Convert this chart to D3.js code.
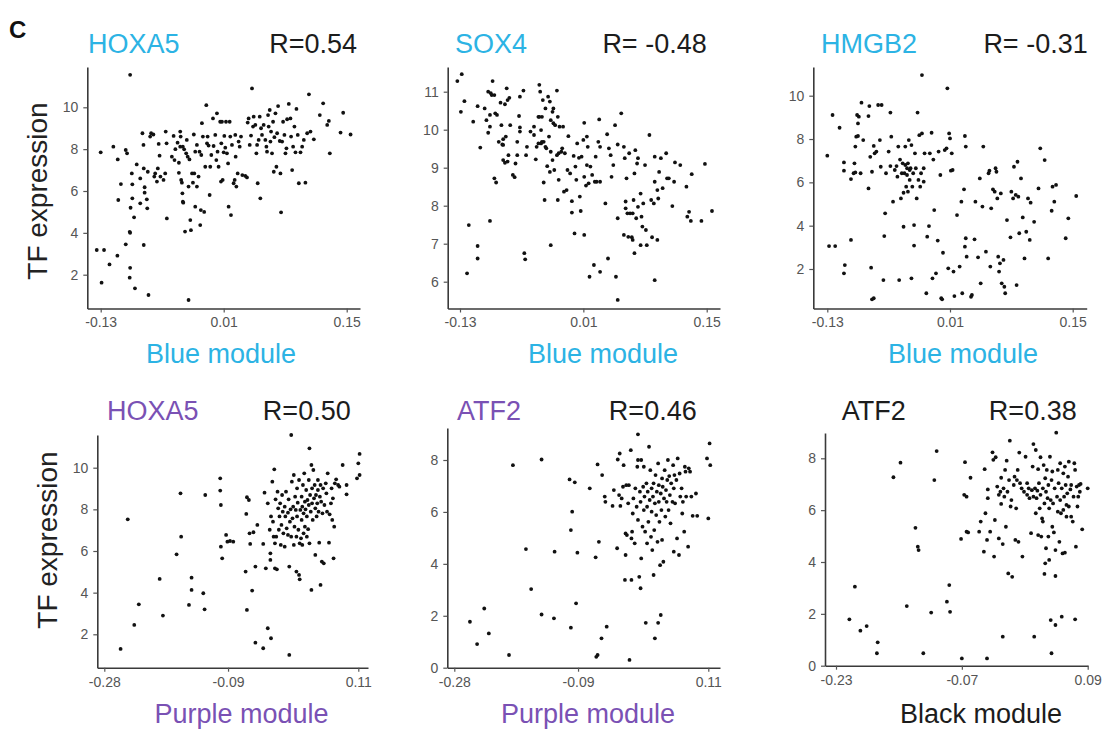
<!DOCTYPE html>
<html><head><meta charset="utf-8">
<script src="https://cdn.jsdelivr.net/npm/d3@7"></script>
<style>
body{margin:0;background:#fff}
svg{display:block}
text{font-family:"Liberation Sans",Arial,Helvetica,sans-serif}
</style>
</head><body>
<svg id="c" width="1105" height="731"></svg>
<script>
// ---------------- DATA ----------------
const blueTicks = [-0.13, 0.01, 0.15];
const purpleTicks = [-0.28, -0.09, 0.11];
const blackTicks = [-0.23, -0.07, 0.09];
const yTicksA = [2, 4, 6, 8, 10];
const yTicksSox = [6, 7, 8, 9, 10, 11];
const yTicksB = [0, 2, 4, 6, 8];

const genes = ["HOXA5", "SOX4", "HMGB2", "HOXA5", "ATF2", "ATF2"];
const rLabels = ["R=0.54", "R= -0.48", "R= -0.31", "R=0.50", "R=0.46", "R=0.38"];
const modules = ["Blue module", "Blue module", "Blue module", "Purple module", "Purple module", "Black module"];

const hoxa5Blue = [[-0.1345,3.18],[-0.1262,3.18],[-0.130,7.85],[-0.129,1.62],[-0.120,2.49],[-0.1156,8.12],[-0.111,2.91],[-0.1106,7.51],[-0.110,5.57],[-0.107,6.33],[-0.1015,3.45],[-0.1015,7.96],[-0.100,7.8],[-0.0965,11.55],[-0.097,4.05],[-0.0965,4.0],[-0.0965,2.33],[-0.097,1.86],[-0.0946,6.84],[-0.094,6.32],[-0.094,5.65],[-0.096,5.2],[-0.092,4.74],[-0.091,1.35],[-0.089,7.27],[-0.085,6.6],[-0.085,5.41],[-0.0825,8.76],[-0.0813,8.2],[-0.081,7.08],[-0.080,5.92],[-0.080,6.18],[-0.081,3.42],[-0.0775,5.6],[-0.077,5.17],[-0.0756,1.03],[-0.0764,6.92],[-0.0737,8.6],[-0.0726,8.76],[-0.070,8.7],[-0.069,6.69],[-0.068,6.84],[-0.066,6.45],[-0.065,7.08],[-0.064,8.25],[-0.063,7.69],[-0.062,6.69],[-0.0585,6.53],[-0.0566,6.84],[-0.056,8.84],[-0.0547,4.69],[-0.055,8.28],[-0.049,7.64],[-0.047,8.63],[-0.046,7.48],[-0.045,8.0],[-0.0425,8.31],[-0.041,7.35],[-0.041,6.87],[-0.0395,8.12],[-0.0395,8.84],[-0.039,8.6],[-0.0384,6.53],[-0.0376,6.4],[-0.037,5.89],[-0.0365,5.49],[-0.036,5.44],[-0.0365,8.12],[-0.035,7.99],[-0.034,4.06],[-0.0327,7.8],[-0.032,8.44],[-0.031,7.64],[-0.030,6.21],[-0.030,0.79],[-0.028,4.61],[-0.029,7.51],[-0.026,6.84],[-0.0273,4.13],[-0.025,6.4],[-0.024,8.7],[-0.0235,6.84],[-0.0224,7.88],[-0.0224,5.25],[-0.0205,8.2],[-0.0205,6.21],[-0.0186,6.69],[-0.0175,7.88],[-0.0167,4.37],[-0.016,5.09],[-0.0155,7.72],[-0.0148,9.24],[-0.0137,8.6],[-0.0122,5.0],[-0.011,7.16],[-0.0098,10.1],[-0.009,8.28],[-0.0083,8.6],[-0.0072,8.17],[-0.006,5.81],[-0.0053,7.16],[-0.0041,7.72],[-0.0022,9.47],[-0.0015,8.15],[0.0004,8.68],[0.0016,7.48],[0.0023,9.71],[0.003,7.88],[0.0042,7.16],[0.006,9.31],[0.0069,6.45],[0.0073,8.28],[0.008,9.31],[0.0088,6.53],[0.01,7.85],[0.0107,8.63],[0.0118,8.07],[0.0126,9.31],[0.0137,7.8],[0.015,7.32],[0.0156,5.25],[0.0168,9.31],[0.0175,8.6],[0.0183,4.85],[0.0194,8.2],[0.0213,6.37],[0.0225,6.53],[0.0232,8.68],[0.0236,7.64],[0.0244,6.21],[0.0259,6.84],[0.027,8.36],[0.0282,8.12],[0.0297,8.6],[0.0312,6.76],[0.0346,6.72],[0.0365,6.65],[0.0373,9.27],[0.0384,9.47],[0.0396,8.2],[0.0411,8.65],[0.0422,10.9],[0.0434,9.08],[0.0441,9.55],[0.046,9.16],[0.0472,7.8],[0.048,8.2],[0.0487,6.37],[0.0498,8.44],[0.051,9.55],[0.0517,5.65],[0.0525,9.0],[0.0536,8.68],[0.0555,9.16],[0.0574,8.44],[0.0586,8.12],[0.0593,7.88],[0.0605,9.63],[0.0612,9.08],[0.0624,9.87],[0.0632,8.36],[0.0639,8.84],[0.065,7.8],[0.0662,9.31],[0.067,6.92],[0.0677,8.57],[0.0689,9.71],[0.07,7.16],[0.0708,8.76],[0.0719,10.06],[0.0738,8.39],[0.0746,6.84],[0.0753,4.98],[0.0765,8.36],[0.0776,9.31],[0.0791,8.68],[0.0803,7.8],[0.0814,8.04],[0.0822,9.43],[0.0841,10.16],[0.086,9.47],[0.0867,8.6],[0.0879,7.0],[0.089,8.12],[0.0905,9.08],[0.0917,7.85],[0.0928,9.92],[0.0943,8.68],[0.0955,6.37],[0.0974,7.85],[0.0993,8.12],[0.1012,8.44],[0.103,6.4],[0.105,8.76],[0.107,10.62],[0.1088,8.84],[0.1126,8.47],[0.1194,9.63],[0.1232,10.19],[0.1278,9.16],[0.1297,9.35],[0.1308,7.8],[0.143,8.79],[0.146,9.74],[0.1544,8.7]];

const sox4Blue = [[-0.133,11.28],[-0.128,11.46],[-0.129,10.47],[-0.125,10.75],[-0.122,6.22],[-0.120,7.49],[-0.115,10.21],[-0.110,10.62],[-0.110,6.94],[-0.110,6.61],[-0.107,9.53],[-0.102,10.56],[-0.100,10.25],[-0.098,9.92],[-0.098,11.0],[-0.096,10.08],[-0.096,10.39],[-0.096,7.6],[-0.095,10.96],[-0.094,10.91],[-0.093,11.28],[-0.091,10.91],[-0.090,10.43],[-0.091,8.72],[-0.089,8.61],[-0.088,10.39],[-0.086,9.68],[-0.084,10.71],[-0.083,10.12],[-0.082,9.61],[-0.081,9.75],[-0.081,9.6],[-0.081,9.2],[-0.079,10.67],[-0.079,9.13],[-0.078,9.82],[-0.077,11.09],[-0.076,10.78],[-0.076,9.16],[-0.075,9.33],[-0.074,10.84],[-0.073,10.12],[-0.070,8.81],[-0.068,8.75],[-0.067,9.11],[-0.065,9.33],[-0.065,9.68],[-0.063,10.36],[-0.062,10.06],[-0.062,10.87],[-0.062,9.95],[-0.058,11.03],[-0.057,6.75],[-0.056,6.59],[-0.055,9.33],[-0.054,9.55],[-0.050,9.95],[-0.046,10.08],[-0.046,9.86],[-0.044,9.22],[-0.043,9.55],[-0.041,10.34],[-0.041,9.64],[-0.040,11.18],[-0.040,10.34],[-0.039,11.0],[-0.038,9.64],[-0.038,9.99],[-0.037,9.68],[-0.037,10.34],[-0.036,10.78],[-0.035,8.61],[-0.035,9.68],[-0.034,8.15],[-0.033,9.55],[-0.033,10.56],[-0.032,9.51],[-0.031,9.04],[-0.030,10.87],[-0.029,9.82],[-0.028,10.74],[-0.028,8.89],[-0.027,6.96],[-0.027,10.25],[-0.027,9.42],[-0.025,10.47],[-0.025,9.2],[-0.024,10.56],[-0.024,10.17],[-0.023,8.94],[-0.022,10.12],[-0.020,11.03],[-0.020,9.33],[-0.019,10.34],[-0.019,8.15],[-0.018,8.68],[-0.018,9.38],[-0.017,10.08],[-0.015,9.42],[-0.014,9.51],[-0.013,10.08],[-0.012,8.37],[-0.011,9.38],[-0.009,8.41],[-0.008,8.94],[-0.007,9.83],[-0.005,8.85],[-0.003,8.12],[-0.003,7.82],[-0.001,9.31],[0.0,7.27],[0.001,9.03],[0.002,8.68],[0.003,9.64],[0.005,9.26],[0.006,8.24],[0.007,7.86],[0.008,9.29],[0.010,9.73],[0.011,10.18],[0.011,8.76],[0.011,7.23],[0.013,8.53],[0.014,9.82],[0.014,9.07],[0.015,9.55],[0.016,8.59],[0.017,6.13],[0.018,9.03],[0.020,8.81],[0.022,6.44],[0.023,8.63],[0.024,9.29],[0.025,8.63],[0.027,9.68],[0.028,10.27],[0.029,9.55],[0.029,6.26],[0.029,8.63],[0.035,8.06],[0.037,9.88],[0.038,6.61],[0.039,9.51],[0.041,9.33],[0.042,8.76],[0.044,9.07],[0.046,10.12],[0.047,6.13],[0.049,9.61],[0.049,7.67],[0.049,5.52],[0.053,10.43],[0.056,7.23],[0.056,9.55],[0.057,9.25],[0.058,8.11],[0.058,7.93],[0.059,8.72],[0.060,7.8],[0.061,7.18],[0.062,9.38],[0.063,7.8],[0.065,7.17],[0.066,7.8],[0.066,7.1],[0.067,8.15],[0.068,8.85],[0.068,6.75],[0.069,9.46],[0.070,7.67],[0.071,9.11],[0.072,7.97],[0.072,9.25],[0.075,6.96],[0.075,8.32],[0.076,7.71],[0.077,7.45],[0.078,8.06],[0.080,9.07],[0.081,7.36],[0.082,6.96],[0.085,9.86],[0.087,8.15],[0.088,7.17],[0.090,8.06],[0.091,9.29],[0.091,6.04],[0.091,8.63],[0.094,8.41],[0.094,7.1],[0.095,8.19],[0.096,8.89],[0.098,9.25],[0.100,8.46],[0.104,9.38],[0.105,8.72],[0.107,8.72],[0.111,7.99],[0.113,8.63],[0.114,9.14],[0.120,9.07],[0.127,8.5],[0.128,7.71],[0.130,7.84],[0.132,7.6],[0.133,8.83],[0.144,7.6],[0.148,9.1],[0.156,7.86]];

const hmgb2Blue = [[-0.130,7.23],[-0.128,3.06],[-0.124,9.11],[-0.121,3.06],[-0.116,8.52],[-0.111,6.92],[-0.111,6.54],[-0.110,2.18],[-0.111,1.8],[-0.103,3.34],[-0.103,6.15],[-0.100,6.42],[-0.099,6.88],[-0.098,6.46],[-0.098,7.65],[-0.097,8.11],[-0.096,9.11],[-0.095,8.14],[-0.095,8.72],[-0.094,9.03],[-0.092,6.42],[-0.091,9.68],[-0.089,7.95],[-0.083,9.06],[-0.083,5.72],[-0.082,9.52],[-0.081,7.18],[-0.080,2.06],[-0.079,0.6],[-0.077,0.65],[-0.079,6.49],[-0.077,7.68],[-0.076,7.34],[-0.074,7.42],[-0.072,9.57],[-0.068,9.57],[-0.070,7.95],[-0.069,6.72],[-0.066,1.49],[-0.065,3.52],[-0.064,4.57],[-0.063,6.42],[-0.060,7.42],[-0.058,9.22],[-0.058,6.75],[-0.057,8.11],[-0.055,5.11],[-0.053,6.57],[-0.051,6.75],[-0.050,6.26],[-0.049,7.65],[-0.048,1.49],[-0.047,7.05],[-0.046,5.26],[-0.045,6.42],[-0.044,6.88],[-0.043,5.52],[-0.043,3.95],[-0.042,6.42],[-0.041,7.65],[-0.041,6.8],[-0.040,5.8],[-0.039,6.34],[-0.039,6.65],[-0.038,6.88],[-0.038,5.57],[-0.037,7.95],[-0.036,6.11],[-0.036,6.57],[-0.035,6.65],[-0.034,7.72],[-0.034,1.57],[-0.033,5.8],[-0.032,6.42],[-0.031,4.03],[-0.031,3.08],[-0.030,7.34],[-0.029,6.65],[-0.028,5.26],[-0.027,9.22],[-0.026,6.11],[-0.025,8.18],[-0.024,5.8],[-0.023,6.42],[-0.022,10.95],[-0.022,8.26],[-0.020,6.65],[-0.020,6.03],[-0.019,7.34],[-0.017,0.88],[-0.016,3.49],[-0.014,3.98],[-0.013,7.34],[-0.011,8.29],[-0.010,1.57],[-0.009,7.05],[-0.008,4.72],[-0.006,1.8],[-0.004,3.31],[-0.003,7.42],[-0.001,6.34],[0.0,0.65],[0.001,0.6],[0.002,2.75],[0.004,7.49],[0.006,7.57],[0.007,10.34],[0.008,2.03],[0.009,8.26],[0.010,8.03],[0.011,6.54],[0.012,7.34],[0.013,6.57],[0.014,1.88],[0.015,0.75],[0.018,4.49],[0.021,2.11],[0.023,5.11],[0.024,0.88],[0.026,5.68],[0.027,3.03],[0.027,8.14],[0.028,7.65],[0.028,3.42],[0.029,2.57],[0.034,0.72],[0.035,0.8],[0.038,3.37],[0.039,5.11],[0.042,2.54],[0.044,6.18],[0.045,1.34],[0.047,4.88],[0.048,7.65],[0.051,2.8],[0.054,6.42],[0.055,6.54],[0.056,2.11],[0.057,4.8],[0.059,5.68],[0.061,5.57],[0.062,6.65],[0.063,6.49],[0.064,5.26],[0.065,2.57],[0.066,1.88],[0.067,2.26],[0.068,5.49],[0.069,1.34],[0.071,2.42],[0.072,1.18],[0.073,0.88],[0.075,4.26],[0.079,3.46],[0.080,5.57],[0.082,5.26],[0.083,6.72],[0.085,5.42],[0.086,1.26],[0.087,6.95],[0.088,5.34],[0.089,3.65],[0.091,6.18],[0.093,4.38],[0.095,2.49],[0.097,3.72],[0.099,5.26],[0.101,3.34],[0.102,5.06],[0.106,4.18],[0.111,5.72],[0.113,7.57],[0.118,7.03],[0.122,2.49],[0.126,4.69],[0.127,5.8],[0.129,5.11],[0.131,5.88],[0.142,3.42],[0.145,4.34],[0.154,5.37]];

const hoxa5Purple = [[-0.255,1.3],[-0.244,7.52],[-0.234,2.45],[-0.227,3.44],[-0.195,4.66],[-0.190,2.9],[-0.169,5.84],[-0.163,8.77],[-0.162,6.69],[-0.150,3.41],[-0.146,4.72],[-0.146,4.13],[-0.128,3.97],[-0.126,3.2],[-0.125,8.69],[-0.102,9.49],[-0.102,8.9],[-0.101,8.21],[-0.101,6.21],[-0.099,5.65],[-0.093,6.77],[-0.091,6.45],[-0.087,6.48],[-0.082,6.45],[-0.063,5.01],[-0.062,7.78],[-0.061,3.17],[-0.061,8.58],[-0.058,8.45],[-0.057,6.85],[-0.056,6.34],[-0.053,4.1],[-0.051,6.9],[-0.048,5.25],[-0.048,1.6],[-0.045,7.25],[-0.036,6.34],[-0.036,1.33],[-0.034,8.8],[-0.032,5.17],[-0.029,8.29],[-0.029,2.29],[-0.026,7.02],[-0.025,5.57],[-0.025,5.89],[-0.024,7.66],[-0.024,1.81],[-0.022,9.33],[-0.021,7.41],[-0.020,6.69],[-0.019,9.92],[-0.018,5.17],[-0.018,6.37],[-0.017,8.48],[-0.016,6.69],[-0.015,5.12],[-0.014,8.85],[-0.013,8.05],[-0.012,7.02],[-0.011,7.66],[-0.010,8.29],[-0.009,6.29],[-0.008,7.25],[-0.007,8.69],[-0.006,7.89],[-0.005,6.85],[-0.003,8.13],[-0.003,6.21],[-0.002,7.66],[-0.001,8.85],[0.0,7.09],[0.002,7.84],[0.002,6.77],[0.003,8.48],[0.004,5.25],[0.004,1.01],[0.005,7.41],[0.006,8.0],[0.007,11.57],[0.007,6.69],[0.008,9.33],[0.009,7.57],[0.010,8.13],[0.011,9.65],[0.011,6.29],[0.012,7.17],[0.013,8.61],[0.014,7.97],[0.015,6.69],[0.015,5.01],[0.016,9.01],[0.016,7.66],[0.017,8.32],[0.018,7.02],[0.019,9.41],[0.019,4.85],[0.020,6.37],[0.020,4.64],[0.021,7.97],[0.022,6.61],[0.023,8.61],[0.023,7.49],[0.024,6.29],[0.024,8.13],[0.025,9.17],[0.026,6.85],[0.026,7.81],[0.027,9.73],[0.028,8.37],[0.028,7.17],[0.029,8.0],[0.030,8.93],[0.031,6.69],[0.031,7.66],[0.032,8.45],[0.033,7.05],[0.034,9.41],[0.034,8.21],[0.035,10.93],[0.035,6.37],[0.036,8.69],[0.037,7.89],[0.038,4.13],[0.038,10.13],[0.039,9.01],[0.039,8.29],[0.040,7.49],[0.041,9.89],[0.042,8.53],[0.043,9.17],[0.044,5.81],[0.044,8.05],[0.045,8.69],[0.046,7.66],[0.047,8.29],[0.048,9.41],[0.048,8.93],[0.049,7.89],[0.050,6.4],[0.051,8.61],[0.052,9.17],[0.052,4.37],[0.053,8.37],[0.054,5.49],[0.055,7.81],[0.056,9.01],[0.057,5.41],[0.058,8.21],[0.060,9.25],[0.061,8.77],[0.062,7.89],[0.063,9.73],[0.065,6.4],[0.066,7.76],[0.068,8.29],[0.069,9.01],[0.070,7.49],[0.071,8.53],[0.072,5.65],[0.073,7.17],[0.074,9.25],[0.076,9.44],[0.079,9.17],[0.081,9.09],[0.086,10.13],[0.092,8.72],[0.092,9.17],[0.108,9.49],[0.110,10.21],[0.112,9.65],[0.112,10.66]];

const atf2Purple = [[-0.256,1.77],[-0.245,0.91],[-0.234,2.28],[-0.227,1.32],[-0.196,0.49],[-0.190,7.8],[-0.170,4.57],[-0.162,3.03],[-0.146,8.02],[-0.146,2.05],[-0.127,1.9],[-0.126,4.47],[-0.103,7.25],[-0.101,1.54],[-0.101,5.3],[-0.099,6.01],[-0.095,7.14],[-0.093,2.48],[-0.091,4.43],[-0.072,6.91],[-0.063,4.25],[-0.062,0.42],[-0.060,0.49],[-0.060,7.83],[-0.058,4.85],[-0.054,1.13],[-0.053,7.42],[-0.049,6.59],[-0.048,6.39],[-0.046,1.58],[-0.037,6.23],[-0.035,6.84],[-0.030,4.6],[-0.029,8.02],[-0.027,6.65],[-0.026,8.25],[-0.025,6.23],[-0.023,6.52],[-0.021,6.97],[-0.020,7.8],[-0.018,3.38],[-0.017,5.17],[-0.017,4.34],[-0.016,7.03],[-0.015,5.11],[-0.013,6.33],[-0.012,7.03],[-0.011,0.3],[-0.009,8.38],[-0.008,4.98],[-0.008,3.38],[-0.007,5.24],[-0.006,5.94],[-0.005,6.52],[-0.003,4.79],[-0.002,6.91],[0.0,6.2],[0.001,7.74],[0.002,8.0],[0.002,8.99],[0.002,5.69],[0.004,3.5],[0.005,6.78],[0.006,3.06],[0.006,6.39],[0.007,4.21],[0.007,8.0],[0.009,5.43],[0.010,6.97],[0.011,6.07],[0.011,7.74],[0.012,6.59],[0.013,5.24],[0.014,1.73],[0.015,7.1],[0.016,4.79],[0.016,6.2],[0.017,6.78],[0.018,5.62],[0.019,8.51],[0.020,6.46],[0.021,7.61],[0.022,5.04],[0.023,6.91],[0.023,6.01],[0.024,4.53],[0.025,6.59],[0.026,3.57],[0.026,7.1],[0.027,5.3],[0.028,1.13],[0.028,6.33],[0.029,7.42],[0.030,5.88],[0.031,6.78],[0.032,4.85],[0.033,7.87],[0.033,1.73],[0.034,6.39],[0.034,7.03],[0.035,5.62],[0.036,3.95],[0.037,6.71],[0.037,2.03],[0.038,6.07],[0.039,7.29],[0.039,4.92],[0.040,6.97],[0.041,4.08],[0.042,6.52],[0.043,7.61],[0.044,5.82],[0.045,6.84],[0.046,6.39],[0.047,7.23],[0.048,8.0],[0.049,6.07],[0.050,7.38],[0.051,6.65],[0.052,5.56],[0.053,7.1],[0.055,6.39],[0.056,7.8],[0.057,4.47],[0.057,6.91],[0.058,7.42],[0.059,6.33],[0.061,7.23],[0.062,4.98],[0.063,8.06],[0.065,4.34],[0.066,7.48],[0.067,6.59],[0.069,6.91],[0.070,5.94],[0.071,6.39],[0.073,5.24],[0.074,7.74],[0.075,7.55],[0.076,6.59],[0.079,4.66],[0.080,7.68],[0.082,7.55],[0.084,6.59],[0.086,5.85],[0.091,6.71],[0.093,5.85],[0.108,8.06],[0.110,5.75],[0.112,8.64],[0.113,7.8]];

const atf2Black = [[-0.213,1.79],[-0.206,3.05],[-0.199,1.35],[-0.191,1.53],[-0.177,0.9],[-0.178,0.48],[-0.157,7.27],[-0.148,7.83],[-0.140,2.3],[-0.129,5.32],[-0.126,4.59],[-0.125,4.46],[-0.119,0.48],[-0.109,2.05],[-0.105,7.16],[-0.102,8.28],[-0.089,2.47],[-0.086,3.11],[-0.085,2.08],[-0.071,4.89],[-0.070,0.28],[-0.067,6.59],[-0.066,7.85],[-0.064,6.52],[-0.064,5.17],[-0.062,5.14],[-0.059,7.25],[-0.048,5.17],[-0.046,5.56],[-0.042,4.4],[-0.041,7.58],[-0.040,5.88],[-0.038,4.85],[-0.038,0.28],[-0.037,6.46],[-0.037,6.8],[-0.034,5.17],[-0.031,8.23],[-0.030,7.94],[-0.029,4.21],[-0.028,5.62],[-0.027,8.04],[-0.025,6.91],[-0.023,4.91],[-0.023,6.59],[-0.021,6.71],[-0.020,7.25],[-0.020,6.24],[-0.018,1.12],[-0.018,4.69],[-0.017,6.84],[-0.016,6.52],[-0.015,7.55],[-0.014,5.36],[-0.013,7.91],[-0.012,6.71],[-0.011,3.56],[-0.010,7.16],[-0.009,8.68],[-0.008,6.14],[-0.007,6.39],[-0.006,3.43],[-0.004,6.97],[-0.003,7.29],[-0.002,4.85],[-0.001,6.07],[0.0,7.16],[0.001,7.55],[0.002,4.78],[0.003,8.22],[0.004,7.04],[0.006,6.84],[0.007,4.21],[0.009,6.71],[0.011,8.06],[0.013,6.59],[0.013,7.04],[0.015,6.84],[0.016,6.46],[0.018,5.11],[0.019,6.77],[0.020,7.68],[0.021,6.52],[0.021,8.55],[0.022,1.12],[0.023,6.84],[0.024,8.32],[0.024,5.88],[0.025,6.46],[0.026,6.75],[0.027,7.58],[0.027,5.04],[0.028,7.04],[0.029,6.07],[0.030,8.04],[0.030,6.59],[0.031,4.98],[0.032,5.68],[0.033,6.84],[0.033,5.56],[0.034,7.74],[0.035,3.54],[0.035,6.26],[0.036,3.95],[0.036,7.23],[0.037,6.71],[0.037,4.53],[0.038,7.55],[0.039,6.46],[0.040,4.98],[0.040,6.97],[0.041,4.08],[0.041,6.07],[0.042,8.06],[0.043,1.76],[0.043,6.39],[0.044,7.16],[0.044,0.48],[0.045,5.36],[0.045,7.49],[0.046,6.26],[0.047,5.14],[0.048,6.84],[0.049,3.46],[0.049,1.57],[0.049,4.46],[0.050,8.99],[0.051,6.52],[0.052,7.55],[0.052,5.94],[0.053,7.04],[0.054,4.78],[0.055,7.81],[0.055,6.39],[0.056,5.88],[0.057,1.89],[0.057,6.84],[0.058,4.33],[0.059,7.42],[0.059,6.01],[0.060,6.52],[0.061,4.36],[0.061,7.68],[0.062,6.97],[0.063,6.2],[0.063,5.75],[0.064,6.65],[0.065,7.29],[0.066,7.87],[0.066,6.14],[0.068,6.8],[0.069,5.75],[0.069,6.97],[0.071,5.56],[0.072,6.52],[0.073,7.81],[0.074,1.79],[0.074,7.55],[0.075,4.59],[0.076,6.91],[0.077,6.14],[0.078,6.52],[0.079,6.97],[0.080,6.71],[0.081,7.01],[0.083,5.26],[0.090,6.84]];

// ---------------- LAYOUT ----------------
const BLUE = "#2cb3e4", PURPLE = "#7a51b4", BLACK = "#1c1c1c";
const panelData = [hoxa5Blue, sox4Blue, hmgb2Blue, hoxa5Purple, atf2Purple, atf2Black];
const xTickSets = [blueTicks, blueTicks, blueTicks, purpleTicks, purpleTicks, blackTicks];
const yTickSets = [yTicksA, yTicksSox, yTicksA, yTicksA, yTicksB, yTicksB];
const colors = [BLUE, BLUE, BLUE, PURPLE, PURPLE, BLACK];

// pixel geometry per panel: y-axis x, axis right end, axis top, x-axis y,
// pixel positions of first/last x tick, of first/last y tick, text anchors
const geo = [
  {ax:87.3, right:360, top:67, bot:308.5, xp:[100.7,346.7], yp:[274.7,107.3], gx:88, rx:357, ty:53, mx:221, my:363, ylx:47, yly:191},
  {ax:447.7, right:720, top:67, bot:308.5, xp:[460,706.7], yp:[281.7,91.7], gx:455, rx:706.7, ty:53, mx:603, my:363},
  {ax:813.3, right:1086.7, top:67, bot:308.5, xp:[827.3,1072.7], yp:[269,95.7], gx:821, rx:1087.7, ty:53, mx:963, my:363},
  {ax:97.3, right:368, top:435, bot:667.7, xp:[104.3,358.3], yp:[634.3,467.7], gx:107, rx:350.7, ty:420, mx:241.5, my:723, ylx:57, yly:540},
  {ax:447.3, right:720, top:428, bot:667.7, xp:[454.3,708.3], yp:[667.7,460], gx:457, rx:696.7, ty:420, mx:588, my:723},
  {ax:825, right:1088, top:433, bot:665.7, xp:[836,1087.7], yp:[665.7,458.3], gx:841.7, rx:1076.7, ty:420, mx:981, my:723}
];

const svg = d3.select("#c");

svg.append("text").attr("x", 9).attr("y", 38)
  .attr("font-size", 24).attr("font-weight", "bold").attr("fill", "#111").text("C");

const fmt = d => String(d);

panelData.forEach((pts, i) => {
  const g = geo[i];
  const xt = xTickSets[i], yt = yTickSets[i];
  const xa = d3.scaleLinear().domain([xt[0], xt[xt.length-1]]).range(g.xp);
  const ya = d3.scaleLinear().domain([yt[0], yt[yt.length-1]]).range(g.yp);
  const x = d3.scaleLinear().domain([xa.invert(g.ax), xa.invert(g.right)]).range([g.ax, g.right]);
  const y = d3.scaleLinear().domain([ya.invert(g.bot), ya.invert(g.top)]).range([g.bot, g.top]);

  const gp = svg.append("g");

  const xAxis = gp.append("g").attr("transform", `translate(0,${g.bot})`)
    .call(d3.axisBottom(x).tickValues(xt).tickFormat(fmt).tickSize(4).tickSizeOuter(0).tickPadding(5));
  const yAxis = gp.append("g").attr("transform", `translate(${g.ax},0)`)
    .call(d3.axisLeft(y).tickValues(yt).tickFormat(fmt).tickSize(4).tickSizeOuter(0).tickPadding(5));

  [xAxis, yAxis].forEach(a => {
    a.select(".domain").attr("stroke", "#3a3a3a").attr("stroke-width", 1.6);
    a.selectAll(".tick line").attr("stroke", "#555").attr("stroke-width", 1.2);
    a.selectAll(".tick text").attr("fill", "#555").attr("font-size", 14)
      .attr("font-family", "'Liberation Sans', Arial, sans-serif");
  });

  gp.append("g").selectAll("circle").data(pts).join("circle")
    .attr("cx", d => x(d[0])).attr("cy", d => y(d[1]))
    .attr("r", 1.9).attr("fill", "#111");

  gp.append("text").attr("x", g.gx).attr("y", g.ty).attr("font-size", 27)
    .attr("fill", colors[i]).text(genes[i]);
  gp.append("text").attr("x", g.rx).attr("y", g.ty).attr("font-size", 27)
    .attr("text-anchor", "end").attr("fill", BLACK).text(rLabels[i]);
  gp.append("text").attr("x", g.mx).attr("y", g.my).attr("font-size", 27)
    .attr("text-anchor", "middle").attr("fill", colors[i]).text(modules[i]);

  if (g.ylx !== undefined) {
    gp.append("text").attr("transform", `translate(${g.ylx},${g.yly}) rotate(-90)`)
      .attr("font-size", 28).attr("text-anchor", "middle").attr("fill", "#222")
      .text("TF expression");
  }
});
</script>
</body></html>
